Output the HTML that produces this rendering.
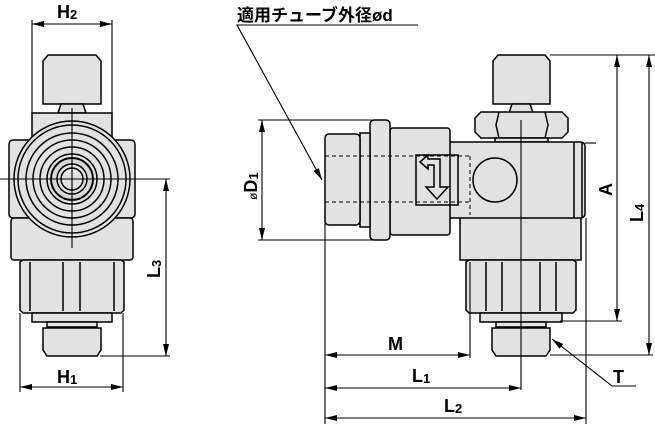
<!DOCTYPE html>
<html><head><meta charset="utf-8"><style>
html,body{margin:0;padding:0;background:#fff;width:655px;height:424px;overflow:hidden}
svg{display:block}
text{font-family:"Liberation Sans",Arial,sans-serif;font-weight:bold;fill:#000}
</style></head><body>
<svg width="655" height="424" viewBox="0 0 655 424" xmlns="http://www.w3.org/2000/svg">
<defs>
<marker id="a" viewBox="0 0 12 6" refX="12" refY="3" markerWidth="12" markerHeight="6" orient="auto-start-reverse" markerUnits="userSpaceOnUse"><path d="M0,0 L12,3 L0,6 Z" fill="#000"/></marker>
</defs>
<g stroke="#000" stroke-width="1.5" fill="#e2e2e2">
<!-- LEFT VIEW -->
<path d="M43,104 V61 L48,55 H96 L101,61 V104 Z"/>
<path d="M58,113 L61,104 H83 L86,113 Z"/>
<rect x="32" y="113" width="80" height="110"/>
<rect x="9" y="140" width="126" height="78" rx="4"/>
<rect x="11" y="218" width="122" height="42" rx="3"/>
<circle cx="72" cy="179" r="58"/>
<g fill="none"><circle cx="72" cy="179" r="54"/><circle cx="72" cy="179" r="46"/><circle cx="72" cy="179" r="39"/><circle cx="72" cy="179" r="32"/><circle cx="72" cy="179" r="25"/></g>
<circle cx="72" cy="179" r="21" fill="#d8d8d8" stroke-width="2"/>
<circle cx="72" cy="179" r="15" fill="#e2e2e2"/>
<circle cx="72" cy="179" r="11" fill="none"/>
<path d="M20,262 L23,260 H121 L124,262 V310 L121,313 H23 L20,310 Z"/>
<g fill="none"><line x1="30" y1="262" x2="30" y2="311"/><line x1="63" y1="262" x2="63" y2="311"/><line x1="80" y1="262" x2="80" y2="311"/><line x1="114" y1="262" x2="114" y2="311"/></g>
<rect x="32" y="313" width="80" height="9"/>
<rect x="47" y="322" width="50" height="5"/>
<path d="M43,328 H101 V350 L97,356 H47 L43,350 Z"/>

<!-- RIGHT VIEW -->
<path d="M493,104 V61 L498,55 H545 L550,61 V104 Z"/>
<path d="M509,113 L512,104 H530 L533,113 Z"/>
<path d="M475,118 L481,112 H562 L568,118 V132 L562,138 H481 L475,132 Z"/>
<path d="M499,112 L496,125 L499,138 M545,112 L548,125 L545,138" fill="none"/>
<rect x="495" y="138" width="53" height="4"/>
<rect x="460" y="215" width="121" height="45"/>
<path d="M466,262 L469,260 H573 L576,262 V310 L573,313 H469 L466,310 Z"/>
<g fill="none"><line x1="486" y1="262" x2="486" y2="311"/><line x1="502" y1="262" x2="502" y2="311"/><line x1="540" y1="262" x2="540" y2="311"/><line x1="556" y1="262" x2="556" y2="311"/></g>
<rect x="480" y="313" width="82" height="9"/>
<rect x="496" y="322" width="50" height="5"/>
<path d="M492,328 H550 V350 L546,356 H496 L492,350 Z"/>
<rect x="393" y="142" width="192" height="76" rx="4"/>
<path d="M574,142 V218 M582,142 V218" fill="none"/>
<rect x="390" y="128" width="60" height="107" rx="3"/>
<rect x="370" y="120" width="20" height="120" rx="4"/>
<rect x="360" y="133" width="10" height="94"/>
<rect x="325" y="134" width="35" height="91" rx="4"/>
<circle cx="495" cy="180" r="22"/>
<g fill="none" stroke-dasharray="4,3" stroke-width="1">
<line x1="325" y1="156" x2="470" y2="156"/><line x1="325" y1="202" x2="470" y2="202"/><line x1="470" y1="156" x2="470" y2="215"/>
</g>
<rect x="416" y="155" width="42" height="50" fill="none"/>
<path d="M420,162 L428,155 V159 H440 V187 H448 L437,199 L426,187 H434 V165 H428 V169 Z" fill="#e2e2e2"/>
</g>

<g stroke="#000" stroke-width="1.1" fill="none">
<line x1="0" y1="179" x2="170" y2="179"/>
<line x1="72" y1="108" x2="72" y2="248"/>
<line x1="521" y1="120" x2="521" y2="390"/>
<line x1="32" y1="20" x2="32" y2="113"/><line x1="112" y1="20" x2="112" y2="113"/>
<line x1="32" y1="24" x2="112" y2="24" marker-start="url(#a)" marker-end="url(#a)"/>
<line x1="20" y1="313" x2="20" y2="392"/><line x1="123" y1="313" x2="123" y2="392"/>
<line x1="20" y1="387" x2="123" y2="387" marker-start="url(#a)" marker-end="url(#a)"/>
<line x1="100" y1="356" x2="170" y2="356"/>
<line x1="166" y1="179" x2="166" y2="356" marker-start="url(#a)" marker-end="url(#a)"/>
<line x1="258" y1="120" x2="372" y2="120"/><line x1="258" y1="240" x2="372" y2="240"/>
<line x1="262" y1="120" x2="262" y2="240" marker-start="url(#a)" marker-end="url(#a)"/>
<line x1="550" y1="55" x2="655" y2="55"/>
<line x1="585" y1="143" x2="596" y2="143"/>
<line x1="560" y1="321" x2="622" y2="321"/>
<line x1="550" y1="355" x2="653" y2="355"/>
<line x1="617" y1="55" x2="617" y2="321" marker-start="url(#a)" marker-end="url(#a)"/>
<line x1="649" y1="55" x2="649" y2="355" marker-start="url(#a)" marker-end="url(#a)"/>
<line x1="325" y1="205" x2="325" y2="424"/>
<line x1="470" y1="262" x2="470" y2="358"/>
<line x1="586" y1="218" x2="586" y2="424"/>
<line x1="325" y1="355" x2="470" y2="355" marker-start="url(#a)" marker-end="url(#a)"/>
<line x1="325" y1="388" x2="521" y2="388" marker-start="url(#a)" marker-end="url(#a)"/>
<line x1="325" y1="418" x2="586" y2="418" marker-start="url(#a)" marker-end="url(#a)"/>
<polyline points="418,25 237,25 322,180" marker-end="url(#a)"/>
<polyline points="636,386 612,386 552,339" marker-end="url(#a)"/>
</g>

<text x="57" y="18" font-size="18">H<tspan font-size="13" dy="1">2</tspan></text>
<text x="57" y="383" font-size="18">H<tspan font-size="13" dy="1">1</tspan></text>
<text transform="translate(160,278) rotate(-90)" font-size="18">L<tspan font-size="13" dy="1">3</tspan></text>
<text transform="translate(257,200) rotate(-90)" font-size="18"><tspan font-size="12" font-weight="normal">ø</tspan>D<tspan font-size="13" dy="1">1</tspan></text>
<text transform="translate(612,196) rotate(-90)" font-size="18">A</text>
<text transform="translate(643,222) rotate(-90)" font-size="18">L<tspan font-size="13" dy="1">4</tspan></text>
<text x="388" y="350" font-size="18">M</text>
<text x="412" y="382" font-size="18">L<tspan font-size="13" dy="1">1</tspan></text>
<text x="444" y="412" font-size="18">L<tspan font-size="13" dy="1">2</tspan></text>
<text x="613" y="383" font-size="18">T</text>
<text x="237" y="21" font-size="17" font-weight="normal" style="font-family:'Liberation Sans','Noto Sans CJK JP',sans-serif">適用チューブ外径ø<tspan font-weight="bold">d</tspan></text>
</svg>
</body></html>
